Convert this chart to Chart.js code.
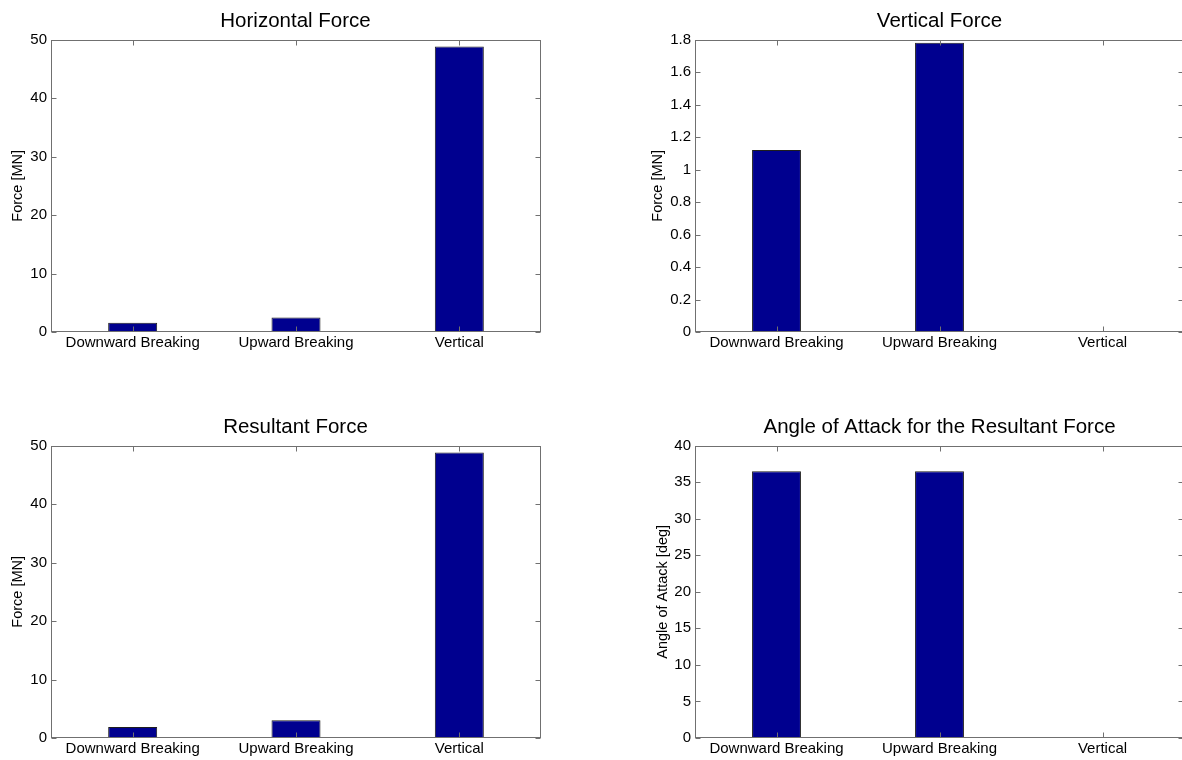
<!DOCTYPE html>
<html>
<head>
<meta charset="utf-8">
<title>Force comparison</title>
<script src="https://cdn.jsdelivr.net/npm/chart.js@4.4.1/dist/chart.umd.min.js"></script>
<style>
  html, body { margin: 0; padding: 0; background: #ffffff; overflow: hidden; }
  #figure { position: relative; width: 1182px; height: 760px; overflow: hidden; background: #ffffff; }
  #figure canvas { position: absolute; }
</style>
</head>
<body>
<div id="figure">
  <canvas id="horizontalChart" width="591" height="370" style="left:0px;top:0px"></canvas>
  <canvas id="verticalChart" width="639" height="370" style="left:620px;top:0px"></canvas>
  <canvas id="resultantChart" width="591" height="370" style="left:0px;top:406px"></canvas>
  <canvas id="angleChart" width="639" height="370" style="left:620px;top:406px"></canvas>
</div>
<script>
// Load cases shown on every panel
const categories = ['Downward Breaking', 'Upward Breaking', 'Vertical'];

// Force components per load case [MN]
const horizontalForce = [1.6, 2.5, 48.8];
const verticalForce = [1.12, 1.78, 0];
const resultantForce = [1.9, 3.05, 48.8];

// Angle of attack of the resultant force [deg]
const attackAngle = [36.5, 36.5, 0];

// Value axis ranges: [min, max, step]
const forceRange = [0, 50, 10];
const verticalRange = [0, 1.8, 0.2];
const angleRange = [0, 40, 5];

const FONT = '"Liberation Sans", Arial, Helvetica, sans-serif';
const AXIS_COLOR = '#707070';
const BAR_FILL = '#00008f';
const BAR_EDGE = '#1e1e1e';
const TICK_LEN = 5;

// Axes frame with inward ticks on all four sides
const axesBox = {
  id: 'axesBox',
  afterDatasetsDraw(chart) {
    const { ctx, chartArea: a, scales } = chart;
    const L = Math.round(a.left) + 0.5;
    const R = Math.round(a.right) - 0.5;
    const T = Math.round(a.top) + 0.5;
    const B = Math.round(a.bottom) - 0.5;
    ctx.save();
    ctx.strokeStyle = AXIS_COLOR;
    ctx.lineWidth = 1;
    ctx.beginPath();
    const ys = scales.y;
    ys.ticks.forEach((t, i) => {
      const py = Math.round(ys.getPixelForTick(i)) + 0.5;
      ctx.moveTo(L, py); ctx.lineTo(L + TICK_LEN, py);
      ctx.moveTo(R, py); ctx.lineTo(R - TICK_LEN, py);
    });
    const xs = scales.x;
    xs.ticks.forEach((t, i) => {
      const px = Math.round(xs.getPixelForTick(i)) + 0.5;
      ctx.moveTo(px, B); ctx.lineTo(px, B - TICK_LEN);
      ctx.moveTo(px, T); ctx.lineTo(px, T + TICK_LEN);
    });
    ctx.stroke();
    ctx.strokeRect(L, T, R - L, B - T);
    ctx.restore();
  }
};

function makePanel(canvasId, titleText, yTitle, values, range, frame) {
  const ctx = document.getElementById(canvasId).getContext('2d');
  return new Chart(ctx, {
    type: 'bar',
    data: {
      labels: categories,
      datasets: [{
        data: values,
        backgroundColor: BAR_FILL,
        borderColor: BAR_EDGE,
        borderWidth: 1,
        borderSkipped: false,
        barPercentage: 0.3,
        categoryPercentage: 1.0
      }]
    },
    options: {
      responsive: false,
      devicePixelRatio: 1,
      animation: false,
      layout: { padding: 0 },
      plugins: {
        legend: { display: false },
        tooltip: { enabled: false },
        title: {
          display: true,
          text: titleText,
          color: '#000000',
          font: { family: FONT, size: 20.5, weight: 'normal', lineHeight: 1.2 },
          padding: { top: 9, bottom: 6 }
        }
      },
      scales: {
        x: {
          offset: true,
          grid: { display: false, drawTicks: false },
          border: { display: false },
          ticks: {
            color: '#000000',
            font: { family: FONT, size: 15, lineHeight: 1.2 },
            padding: 2,
            maxRotation: 0,
            autoSkip: false
          },
          afterFit(scale) { scale.height = 38; }
        },
        y: {
          min: range[0],
          max: range[1],
          grid: { display: false, drawTicks: false },
          border: { display: false },
          ticks: {
            stepSize: range[2],
            autoSkip: false,
            color: '#000000',
            font: { family: FONT, size: 15 },
            padding: 4,
            callback: (v) => String(+Number(v).toFixed(2))
          },
          title: {
            display: true,
            text: yTitle,
            color: '#000000',
            font: { family: FONT, size: 14.5, lineHeight: 1.2 },
            padding: { top: frame.yTitlePad, bottom: 0 }
          },
          afterFit(scale) { scale.width = frame.yWidth; }
        },
        // empty right-hand margin so the title stays centred over the plot area
        margin: {
          position: 'right',
          grid: { display: false, drawTicks: false },
          border: { display: false },
          ticks: { display: false },
          afterFit(scale) { scale.width = frame.padRight; }
        }
      }
    },
    plugins: [axesBox]
  });
}

const leftFrame = { yWidth: 51, padRight: 50, yTitlePad: 9 };
const rightFrameForce = { yWidth: 75, padRight: 75, yTitlePad: 29 };
const rightFrameAngle = { yWidth: 75, padRight: 75, yTitlePad: 34 };

makePanel('horizontalChart', 'Horizontal Force', 'Force [MN]', horizontalForce, forceRange, leftFrame);
makePanel('verticalChart', 'Vertical Force', 'Force [MN]', verticalForce, verticalRange, rightFrameForce);
makePanel('resultantChart', 'Resultant Force', 'Force [MN]', resultantForce, forceRange, leftFrame);
makePanel('angleChart', 'Angle of Attack for the Resultant Force', 'Angle of Attack [deg]', attackAngle, angleRange, rightFrameAngle);
</script>
</body>
</html>
